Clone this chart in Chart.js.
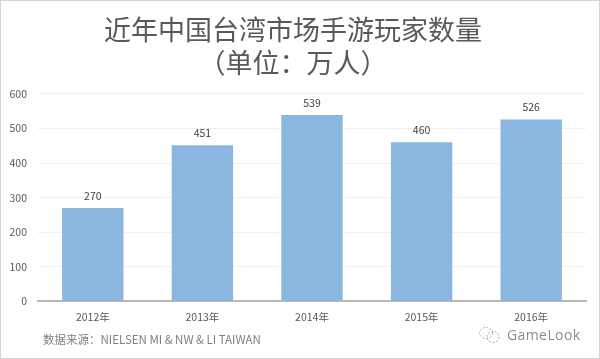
<!DOCTYPE html>
<html>
<head>
<meta charset="utf-8">
<style>
html, body { margin: 0; padding: 0; background: #fff; }
#wrap { position: relative; width: 600px; height: 359px; overflow: hidden; }
#wrap:after { content: ''; position: absolute; inset: 0; border: 1px solid #d6d6d6; pointer-events: none; }
.note { position: absolute; font-family: "Noto Sans CJK SC", "Open Sans", sans-serif; color: #7f7f7f; white-space: nowrap; }
#source { left: 43px; top: 331px; font-size: 11.5px; line-height: 16px; }
#mark { left: 507px; top: 326px; font-size: 14px; line-height: 18px; color: #8c8c8c; font-family: "Open Sans", sans-serif; letter-spacing: 0.4px; }
#icon { position: absolute; left: 478px; top: 325px; }
</style>
<script src="https://cdn.jsdelivr.net/npm/chart.js@4"></script>
</head>
<body>
<div id="wrap">
    <canvas id="chart" width="600" height="359"></canvas>
    <div class="note" id="source">数据来源：NIELSEN MI &amp; NW &amp; LI TAIWAN</div>
    <svg id="icon" width="24" height="20" fill="none" stroke="#a8a8a8" stroke-width="1" stroke-dasharray="2 1.5">
        <ellipse cx="8" cy="8" rx="6.5" ry="5.5"/>
        <ellipse cx="15" cy="12" rx="6" ry="5.5"/>
    </svg>
    <div class="note" id="mark">GameLook</div>
</div>
<script>
const years = ['2012年', '2013年', '2014年', '2015年', '2016年'];
const players = [270, 451, 539, 460, 526];
const titleLines = ['近年中国台湾市场手游玩家数量', '（单位：万人）'];
const cjkFont = "'Noto Sans CJK SC', 'Open Sans', sans-serif";

// value labels above the bars
const barLabels = {
    id: 'barLabels',
    afterDatasetsDraw(chart) {
        const c = chart.ctx;
        c.save();
        c.font = '10.5px ' + cjkFont;
        c.fillStyle = '#404040';
        c.textAlign = 'center';
        c.textBaseline = 'bottom';
        chart.getDatasetMeta(0).data.forEach((bar, i) => {
            c.fillText(players[i], bar.x, bar.y - 7);
        });
        c.restore();
    }
};

new Chart(document.getElementById('chart'), {
    type: 'bar',
    data: {
        labels: years,
        datasets: [{
            data: players,
            backgroundColor: '#8ab6e0',
            categoryPercentage: 1,
            barPercentage: 0.56
        }]
    },
    options: {
        responsive: false,
        animation: false,
        layout: { padding: { left: 0, right: 14, top: 0, bottom: 35 } },
        plugins: {
            legend: { display: false },
            tooltip: { enabled: false },
            title: {
                display: true,
                text: titleLines,
                color: '#595959',
                font: { family: cjkFont, size: 27, weight: 'normal', lineHeight: 1.2 },
                padding: { top: 14, bottom: 15 }
            }
        },
        scales: {
            x: {
                grid: { display: false },
                border: { color: '#b8b8b8', width: 2 },
                ticks: { color: '#595959', font: { family: cjkFont, size: 10.5 }, padding: 1 }
            },
            y: {
                min: 0,
                max: 600,
                afterFit(axis) { axis.width = 38; },
                grid: { color: '#f0f0f0', drawTicks: false },
                border: { display: false },
                ticks: { stepSize: 100, color: '#595959', font: { family: cjkFont, size: 10.5 }, padding: 11 }
            }
        }
    },
    plugins: [barLabels]
});
</script>
</body>
</html>
